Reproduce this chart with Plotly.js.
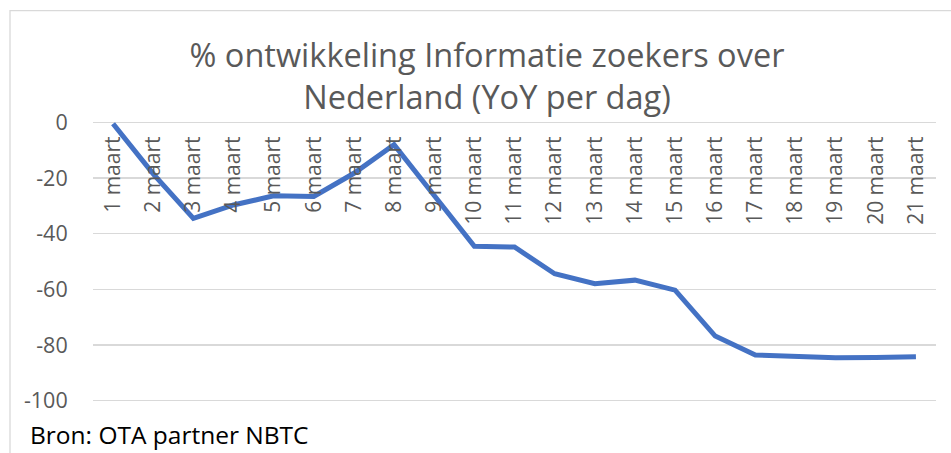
<!DOCTYPE html>
<html>
<head>
<meta charset="utf-8">
<script src="https://cdn.plot.ly/plotly-3.0.1.min.js"></script>
<style>html,body{margin:0;padding:0;background:#fff;}#chart{width:951px;height:453px;}</style>
</head>
<body>
<div id="chart"></div>
<script>
const categories = ["1 maart","2 maart","3 maart","4 maart","5 maart","6 maart","7 maart","8 maart","9 maart","10 maart","11 maart","12 maart","13 maart","14 maart","15 maart","16 maart","17 maart","18 maart","19 maart","20 maart","21 maart"];
const yoyValues = [-0.5, -18.5, -34.5, -29.7, -26.4, -26.6, -18.3, -8, -26.3, -44.5, -44.8, -54.4, -58, -56.7, -60.3, -76.8, -83.6, -84.3, -84.6, -84.5, -84.2];
const yTicks = [0, -20, -40, -60, -80, -100];
const titleText = "% ontwikkeling Informatie zoekers over<br>Nederland (YoY per dag)";
const sourceText = "Bron: OTA partner NBTC";

const FONT = "Open Sans, Noto Sans, sans-serif";
const GREY = "#595959";

// plot area pixel geometry: y=0 at 122px, y=-100 at 401px
const PX_PER_UNIT = 279 / 100;
const PAD = 3; // units of padding beyond the gridlines
const padPx = PAD * PX_PER_UNIT;
const T = 122 - padPx, B = 453 - 401 - padPx;
const plotH = 279 + 2 * padPx;
const py = p => (401 + padPx - p) / plotH; // pixel y -> paper y
const px = p => (p - 93) / 843;            // pixel x -> paper x

const trace = {
  x: categories,
  y: yoyValues,
  type: "scatter",
  mode: "lines",
  line: {color: "#4472C4", width: 5},
  hoverinfo: "skip"
};

const layout = {
  width: 951, height: 453,
  margin: {l: 93, r: 15, t: T, b: B},
  paper_bgcolor: "#ffffff",
  plot_bgcolor: "#ffffff",
  showlegend: false,
  title: {
    text: titleText,
    font: {family: FONT, size: 32.5, color: GREY},
    xref: "container", x: 487/951, xanchor: "center",
    yref: "container", y: 1 - 67/453, yanchor: "top"
  },
  xaxis: {
    type: "category",
    range: [-0.5, categories.length - 0.5],
    side: "bottom",
    anchor: "free",
    position: py(131),
    tickangle: -90,
    tickfont: {family: FONT, size: 21, color: GREY},
    showgrid: false,
    zeroline: false,
    showline: false,
    ticks: "",
    fixedrange: true
  },
  yaxis: {
    range: [-100 - PAD, PAD],
    tickvals: yTicks,
    ticktext: yTicks.map(String),
    tickfont: {family: FONT, size: 21.5, color: GREY},
    showgrid: true,
    gridcolor: "#d9d9d9",
    gridwidth: 1.3,
    zeroline: false,
    showline: false,
    ticks: "outside",
    ticklen: 20,
    tickcolor: "rgba(0,0,0,0)",
    fixedrange: true
  },
  shapes: [{
    type: "rect", xref: "paper", yref: "paper",
    x0: px(10), x1: 1.2,
    y0: -0.4, y1: py(10),
    line: {color: "#d9d9d9", width: 1.3},
    fillcolor: "rgba(0,0,0,0)",
    layer: "below"
  }],
  annotations: [{
    text: sourceText,
    xref: "paper", yref: "paper",
    x: px(28), xanchor: "left",
    y: py(435), yanchor: "middle",
    showarrow: false,
    font: {family: FONT, size: 24.5, color: "#000000"}
  }]
};

Plotly.newPlot("chart", [trace], layout, {displayModeBar: false, staticPlot: true});
</script>
</body>
</html>
